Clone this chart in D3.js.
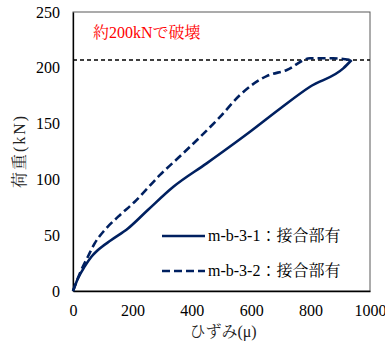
<!DOCTYPE html>
<html><head><meta charset="utf-8">
<script src="https://cdn.jsdelivr.net/npm/d3@7"></script>
<style>body{margin:0;background:#fff}svg{display:block}</style>
</head><body>
<svg id="c" width="385" height="344"></svg>
<script>
const xTicks = [0, 200, 400, 600, 800, 1000];
const yTicks = [0, 50, 100, 150, 200, 250];
const seriesNames = ["m-b-3-1：接合部有", "m-b-3-2：接合部有"];
const strain1 = [0, 17, 39, 62, 84, 129, 185, 252, 338, 450, 596, 700, 798, 910, 938];
const load1   = [0, 11.4, 21.8, 30.7, 36.7, 45.7, 56, 72.6, 93.4, 114.4, 142.7, 164, 183, 199.5, 207];
const strain2 = [0, 28, 50, 73, 107, 152, 208, 293, 371, 428, 495, 562, 652, 720, 798, 876, 938];
const load2   = [0, 18.8, 30.7, 42.7, 54.7, 66.6, 80, 104, 123.4, 138, 156, 175.6, 192.6, 198, 208.5, 208.5, 207];
const failLoad = 207;
const annotation = "約200kNで破壊";
const xTitle = "ひずみ(μ)";
const yTitle = "荷重(kN)";

const svg = d3.select("#c");
const L = 73, R = 370, T = 12, B = 291;
const x = d3.scaleLinear().domain([0, 1000]).range([L, R]);
const y = d3.scaleLinear().domain([0, 250]).range([B, T]);
const font = "'Liberation Serif','Times New Roman','Noto Serif CJK JP','Noto Sans CJK JP',serif";
const color = "#002060";

// frame
svg.append("rect").attr("x", L).attr("y", T).attr("width", R - L).attr("height", B - T)
  .attr("fill", "none").attr("stroke", "#595959").attr("stroke-width", 1);

// axes
const xa = svg.append("g").attr("transform", `translate(0,${B})`)
  .call(d3.axisBottom(x).tickValues(xTicks).tickSize(0).tickPadding(14).tickFormat(d3.format("d")));
const ya = svg.append("g").attr("transform", `translate(${L},0)`)
  .call(d3.axisLeft(y).tickValues(yTicks).tickSize(0).tickPadding(13).tickFormat(d3.format("d")));
[xa, ya].forEach(a => {
  a.select(".domain").attr("stroke", "#000").attr("stroke-width", 1.3);
  a.selectAll("text").attr("font-family", font).attr("font-size", 16).attr("fill", "#000");
});

// failure line
svg.append("line").attr("x1", L).attr("x2", R).attr("y1", y(failLoad)).attr("y2", y(failLoad))
  .attr("stroke", "#000").attr("stroke-width", 1.5).attr("stroke-dasharray", "4,3");

svg.append("text").attr("x", 93).attr("y", 38).attr("fill", "#ff0000")
  .attr("font-family", font).attr("font-size", 16).text(annotation);

const line = d3.line().x(d => x(d[0])).y(d => y(d[1])).curve(d3.curveMonotoneX);
const d1 = strain1.map((s, i) => [s, load1[i]]);
const d2 = strain2.map((s, i) => [s, load2[i]]);
svg.append("path").attr("d", line(d1)).attr("fill", "none").attr("stroke", color).attr("stroke-width", 2.6);
svg.append("path").attr("d", line(d2)).attr("fill", "none").attr("stroke", color).attr("stroke-width", 2.6)
  .attr("stroke-dasharray", "8,4");

// legend
const lg = [[236, null], [271, "8,4"]];
lg.forEach((l, i) => {
  svg.append("line").attr("x1", 162).attr("x2", 205).attr("y1", l[0]).attr("y2", l[0])
    .attr("stroke", color).attr("stroke-width", 2.6).attr("stroke-dasharray", l[1]);
  svg.append("text").attr("x", 208).attr("y", l[0] + 5).attr("font-family", font)
    .attr("font-size", 16).attr("fill", "#000").text(seriesNames[i]);
});

// titles
svg.append("text").attr("x", 223).attr("y", 337).attr("text-anchor", "middle")
  .attr("font-family", font).attr("font-size", 16).attr("fill", "#222").text(xTitle);
svg.append("text").attr("transform", "translate(25,151) rotate(-90)").attr("text-anchor", "middle")
  .attr("font-family", font).attr("font-size", 16).attr("letter-spacing", 2).attr("fill", "#222").text(yTitle);
</script>
</body></html>
